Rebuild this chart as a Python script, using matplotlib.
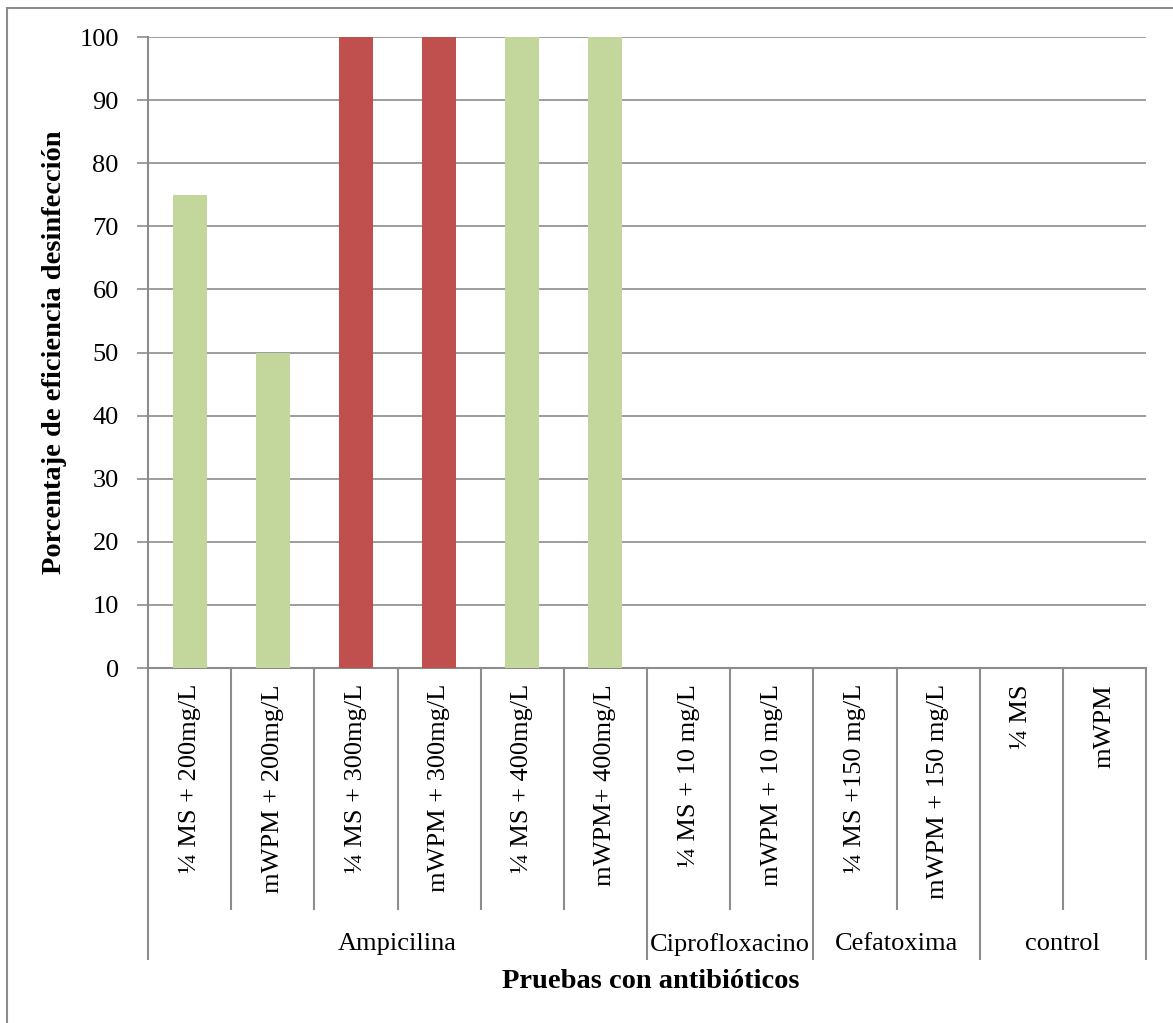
import matplotlib.pyplot as plt
from matplotlib.patches import Rectangle
from matplotlib.transforms import blended_transform_factory

plt.rcParams['font.family'] = ['Liberation Serif', 'DejaVu Serif']

# pruebas de desinfección con antibióticos
tratamientos = ['¼ MS + 200mg/L', 'mWPM + 200mg/L', '¼ MS + 300mg/L', 'mWPM + 300mg/L',
                '¼ MS + 400mg/L', 'mWPM+ 400mg/L', '¼ MS + 10 mg/L', 'mWPM + 10 mg/L',
                '¼ MS +150 mg/L', 'mWPM + 150 mg/L', '¼ MS', 'mWPM']
eficiencia = [75, 50, 100, 100, 100, 100, 0, 0, 0, 0, 0, 0]
colores = ['#C3D69B', '#C3D69B', '#C0504D', '#C0504D', '#C3D69B', '#C3D69B',
           '#C3D69B', '#C3D69B', '#C3D69B', '#C3D69B', '#C3D69B', '#C3D69B']
grupos = ['Ampicilina', 'Ciprofloxacino', 'Cefatoxima', 'control']
n_grupo = [6, 2, 2, 2]

gris = '#8C8C8C'

fig = plt.figure(figsize=(11.73, 10.23), dpi=100)
ax = fig.add_axes([0.1262, 0.347, 0.8508, 0.6168])

# marco exterior del gráfico
fig.patches.append(Rectangle((7 / 1173, -0.1), 1.2, 1.1 - 8 / 1023, transform=fig.transFigure,
                             fill=False, edgecolor=gris, linewidth=1.5))

x = list(range(len(tratamientos)))
ax.bar(x, eficiencia, width=0.41, color=colores, zorder=3)

ax.set_xlim(-0.5, len(tratamientos) - 0.5)
ax.set_ylim(0, 100)
ax.set_yticks(range(0, 101, 10))
ax.tick_params(axis='y', labelsize=19, length=8, color=gris, width=1.2, pad=13)
ax.set_xticks([])
ax.grid(axis='y', color=gris, linewidth=1.2, zorder=0)
for s in ['top', 'right']:
    ax.spines[s].set_visible(False)
for s in ['left', 'bottom']:
    ax.spines[s].set_color(gris)
    ax.spines[s].set_linewidth(1.5)

trans = blended_transform_factory(ax.transData, ax.transAxes)
alto = 668 - 37
y_cat = -(909 - 668) / alto
y_grp = -(959 - 668) / alto

# etiquetas de cada tratamiento, giradas
for i, t in enumerate(tratamientos):
    ax.text(i, -(684 - 668) / alto, t, rotation=90, ha='center', va='top',
            fontsize=19, transform=trans)

# separadores entre tratamientos y entre grupos
limites = [0]
for n in n_grupo:
    limites.append(limites[-1] + n)
for b in range(len(tratamientos) + 1):
    y0 = y_grp if b in limites else y_cat
    ax.plot([b - 0.5, b - 0.5], [0, y0], color=gris, linewidth=1.5,
            transform=trans, clip_on=False)

for g, ini, n in zip(grupos, limites[:-1], n_grupo):
    ax.text(ini - 0.5 + n / 2, -(944 - 668) / alto, g, ha='center', va='center',
            fontsize=19, transform=trans)

ax.set_ylabel('Porcentaje de eficiencia desinfección', fontsize=20.5, fontweight='bold', labelpad=9)
fig.text(651 / 1173, 1 - 982 / 1023, 'Pruebas con antibióticos', ha='center', va='center',
         fontsize=20.5, fontweight='bold')

fig.savefig('out.png', dpi=100)
